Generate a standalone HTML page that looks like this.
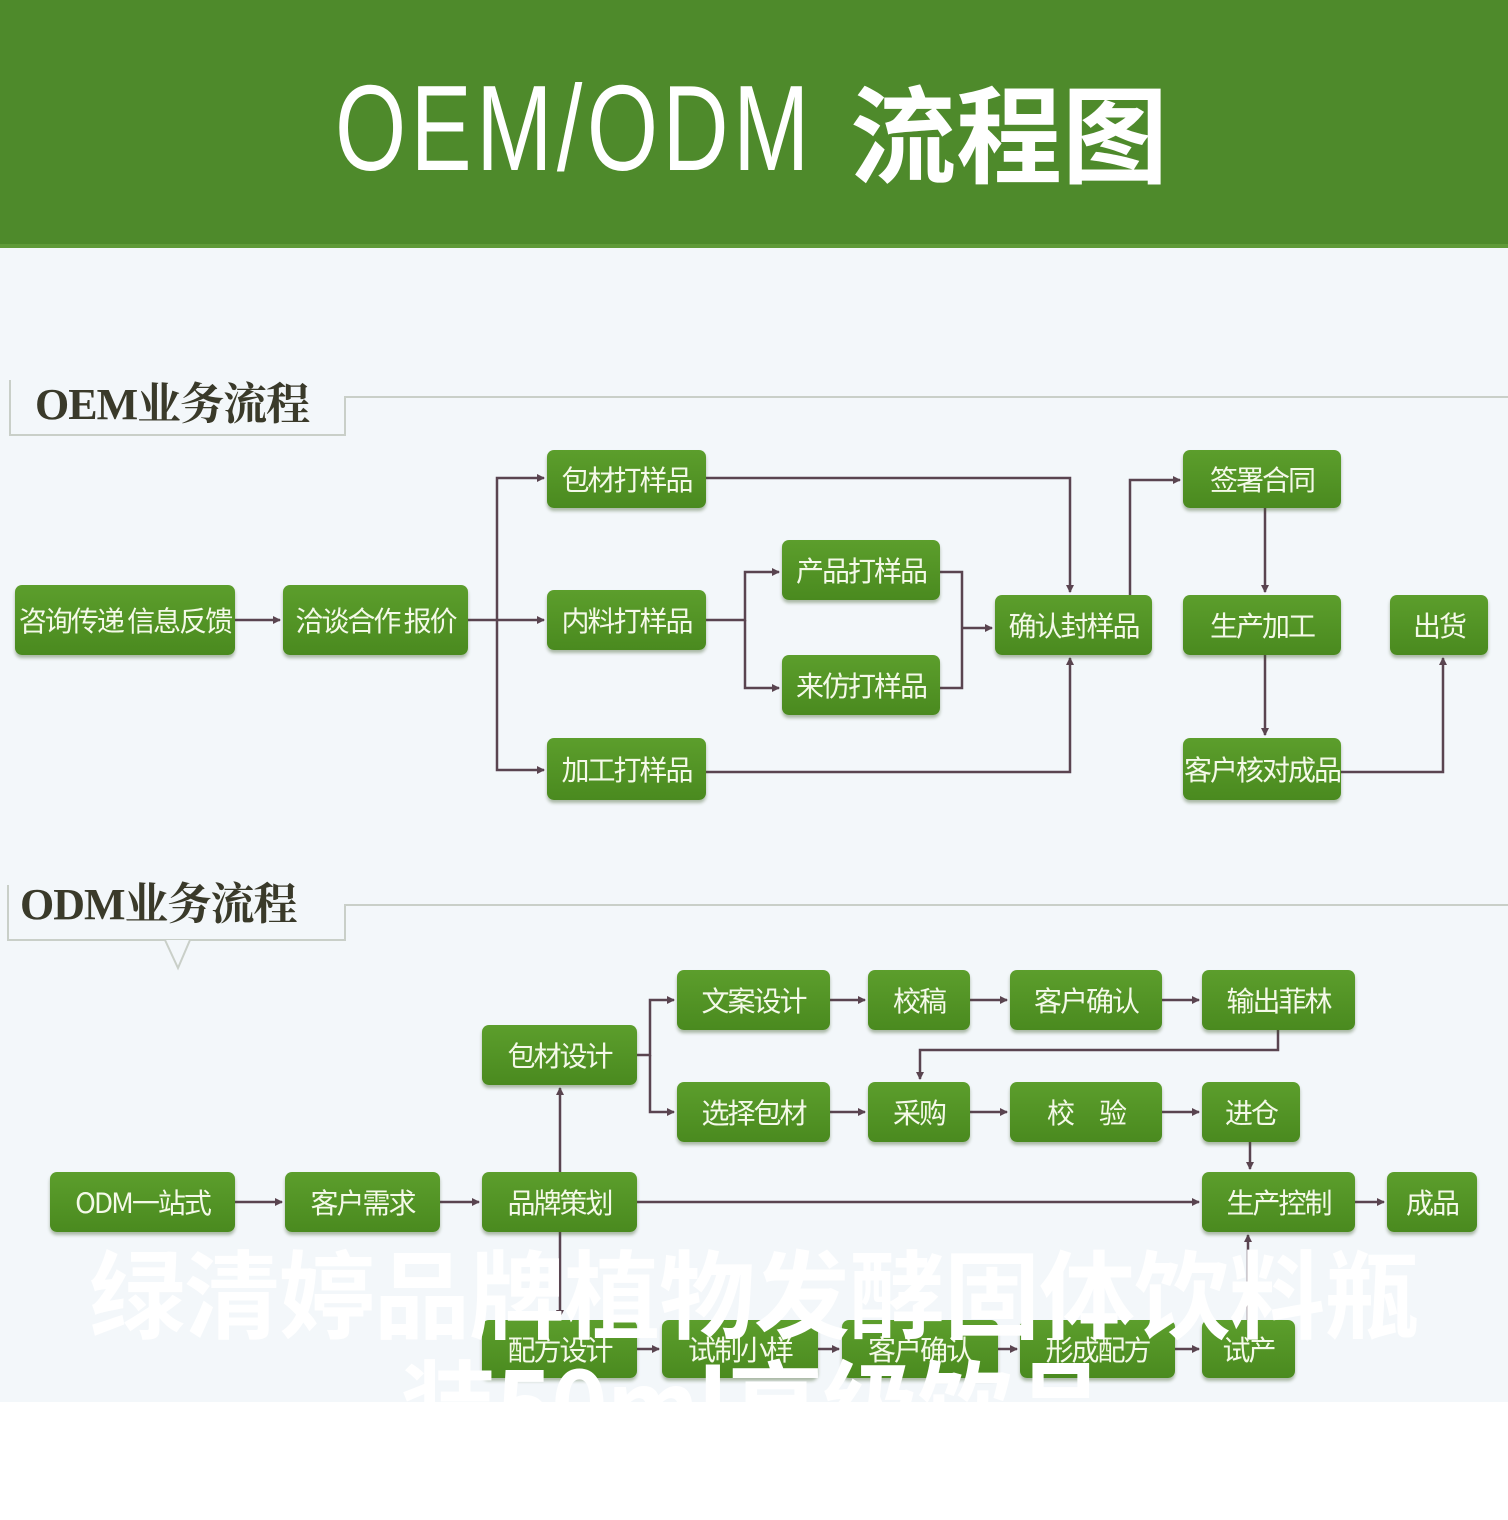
<!DOCTYPE html>
<html><head><meta charset="utf-8"><style>
*{margin:0;padding:0;box-sizing:border-box}
body{width:1508px;height:1520px;position:relative;overflow:hidden;background:#f3f7fa;font-family:"Liberation Sans","Noto Sans CJK SC",sans-serif}
#hdr{position:absolute;left:0;top:0;width:1508px;height:248px;background:#4e8a2b;border-bottom:4px solid #5f9a38}
.t{position:absolute;color:#fff;font-weight:bold;white-space:nowrap}
.b{position:absolute;background:linear-gradient(#5c9e2c,#4a8a1f);border-radius:7px;color:#f4f9e8;display:flex;align-items:center;justify-content:center;font-family:"Noto Sans CJK SC",sans-serif;font-size:28px;letter-spacing:-2px;box-shadow:0 3px 3px rgba(60,90,40,.4);white-space:nowrap;overflow:hidden}
.sec{position:absolute;font-family:"Liberation Serif","Noto Serif CJK SC",serif;font-weight:bold;font-size:44px;color:#3a3a2a;letter-spacing:-1px}
svg{position:absolute;left:0;top:0}
</style></head><body>
<div id="hdr"></div>
<div class="t" style="left:335px;top:58px;font-size:122px;transform:scaleX(.75);transform-origin:left top;font-weight:normal;letter-spacing:6px">OEM/ODM</div>
<div class="t" style="left:850px;top:52px;font-size:106px;font-family:'Noto Sans CJK SC',sans-serif;letter-spacing:0">流程图</div>

<svg width="1508" height="1520">
<defs><marker id="a" markerWidth="8" markerHeight="8" refX="7" refY="4" orient="auto" markerUnits="userSpaceOnUse"><path d="M0,0L8,4L0,8z" fill="#5a4450"/></marker></defs>
<g fill="none" stroke="#c9cfc8" stroke-width="2">
<path d="M10,380V435H345V397H1508"/>
<path d="M8,885V940H345V905H1508"/>
</g>
<path d="M165,940L178,968L190,940" fill="#f3f7fa" stroke="#c9cfc8" stroke-width="2"/>
<g fill="none" stroke="#5a4450" stroke-width="2.5">
<path d="M235,620H280" marker-end="url(#a)"/>
<path d="M468,620H544" marker-end="url(#a)"/>
<path d="M497,620V478H544" marker-end="url(#a)"/>
<path d="M497,620V770H544" marker-end="url(#a)"/>
<path d="M706,478H1070V592" marker-end="url(#a)"/>
<path d="M706,772H1070V658" marker-end="url(#a)"/>
<path d="M706,620H745V572H779" marker-end="url(#a)"/>
<path d="M745,620V688H779" marker-end="url(#a)"/>
<path d="M940,572H962V688H940"/>
<path d="M962,628H992" marker-end="url(#a)"/>
<path d="M1130,595V480H1180" marker-end="url(#a)"/>
<path d="M1265,508V592" marker-end="url(#a)"/>
<path d="M1265,655V735" marker-end="url(#a)"/>
<path d="M1341,772H1443V658" marker-end="url(#a)"/>

<path d="M235,1202H282" marker-end="url(#a)"/>
<path d="M440,1202H479" marker-end="url(#a)"/>
<path d="M637,1202H1199" marker-end="url(#a)"/>
<path d="M1355,1202H1384" marker-end="url(#a)"/>
<path d="M560,1172V1088" marker-end="url(#a)"/>
<path d="M560,1232V1317" marker-end="url(#a)"/>
<path d="M637,1055H650V1000H674" marker-end="url(#a)"/>
<path d="M650,1055V1112H674" marker-end="url(#a)"/>
<path d="M830,1000H865" marker-end="url(#a)"/>
<path d="M970,1000H1007" marker-end="url(#a)"/>
<path d="M1162,1000H1199" marker-end="url(#a)"/>
<path d="M830,1112H865" marker-end="url(#a)"/>
<path d="M970,1112H1007" marker-end="url(#a)"/>
<path d="M1162,1112H1199" marker-end="url(#a)"/>
<path d="M1278,1030V1050H920V1079" marker-end="url(#a)"/>
<path d="M1250,1142V1169" marker-end="url(#a)"/>
<path d="M1248,1320V1235" marker-end="url(#a)"/>
<path d="M637,1349H659" marker-end="url(#a)"/>
<path d="M818,1349H839" marker-end="url(#a)"/>
<path d="M998,1349H1017" marker-end="url(#a)"/>
<path d="M1175,1349H1199" marker-end="url(#a)"/>
</g>
</svg>

<div class="sec" style="left:35px;top:368px">OEM业务流程</div>
<div class="sec" style="left:20px;top:868px">ODM业务流程</div>

<div class="b" style="left:15px;top:585px;width:220px;height:70px">咨询传递 信息反馈</div>
<div class="b" style="left:283px;top:585px;width:185px;height:70px">洽谈合作 报价</div>
<div class="b" style="left:547px;top:450px;width:159px;height:58px">包材打样品</div>
<div class="b" style="left:547px;top:590px;width:159px;height:60px">内料打样品</div>
<div class="b" style="left:547px;top:738px;width:159px;height:62px">加工打样品</div>
<div class="b" style="left:782px;top:540px;width:158px;height:60px">产品打样品</div>
<div class="b" style="left:782px;top:655px;width:158px;height:60px">来仿打样品</div>
<div class="b" style="left:995px;top:595px;width:157px;height:60px">确认封样品</div>
<div class="b" style="left:1183px;top:450px;width:158px;height:58px">签署合同</div>
<div class="b" style="left:1183px;top:595px;width:158px;height:60px">生产加工</div>
<div class="b" style="left:1183px;top:738px;width:158px;height:62px">客户核对成品</div>
<div class="b" style="left:1390px;top:595px;width:98px;height:60px">出货</div>

<div class="b" style="left:50px;top:1172px;width:185px;height:60px">ODM一站式</div>
<div class="b" style="left:285px;top:1172px;width:155px;height:60px">客户需求</div>
<div class="b" style="left:482px;top:1172px;width:155px;height:60px">品牌策划</div>
<div class="b" style="left:482px;top:1025px;width:155px;height:60px">包材设计</div>
<div class="b" style="left:677px;top:970px;width:153px;height:60px">文案设计</div>
<div class="b" style="left:868px;top:970px;width:102px;height:60px">校稿</div>
<div class="b" style="left:1010px;top:970px;width:152px;height:60px">客户确认</div>
<div class="b" style="left:1202px;top:970px;width:153px;height:60px">输出菲林</div>
<div class="b" style="left:677px;top:1082px;width:153px;height:60px">选择包材</div>
<div class="b" style="left:868px;top:1082px;width:102px;height:60px">采购</div>
<div class="b" style="left:1010px;top:1082px;width:152px;height:60px">校　验</div>
<div class="b" style="left:1202px;top:1082px;width:98px;height:60px">进仓</div>
<div class="b" style="left:1202px;top:1172px;width:153px;height:60px">生产控制</div>
<div class="b" style="left:1387px;top:1172px;width:90px;height:60px">成品</div>
<div class="b" style="left:482px;top:1320px;width:155px;height:58px">配方设计</div>
<div class="b" style="left:662px;top:1320px;width:156px;height:58px">试制小样</div>
<div class="b" style="left:842px;top:1320px;width:156px;height:58px">客户确认</div>
<div class="b" style="left:1020px;top:1320px;width:155px;height:58px">形成配方</div>
<div class="b" style="left:1202px;top:1320px;width:93px;height:58px">试产</div>

<div class="t" style="left:0;top:1235px;width:1508px;text-align:center;font-size:96px;font-family:'Noto Sans CJK SC',sans-serif;line-height:110px;letter-spacing:-1px">绿清婷品牌植物发酵固体饮料瓶<br>装50ml高级饮品</div>
<div style="position:absolute;left:0;top:1402px;width:1508px;height:118px;background:#fff"></div>
</body></html>
